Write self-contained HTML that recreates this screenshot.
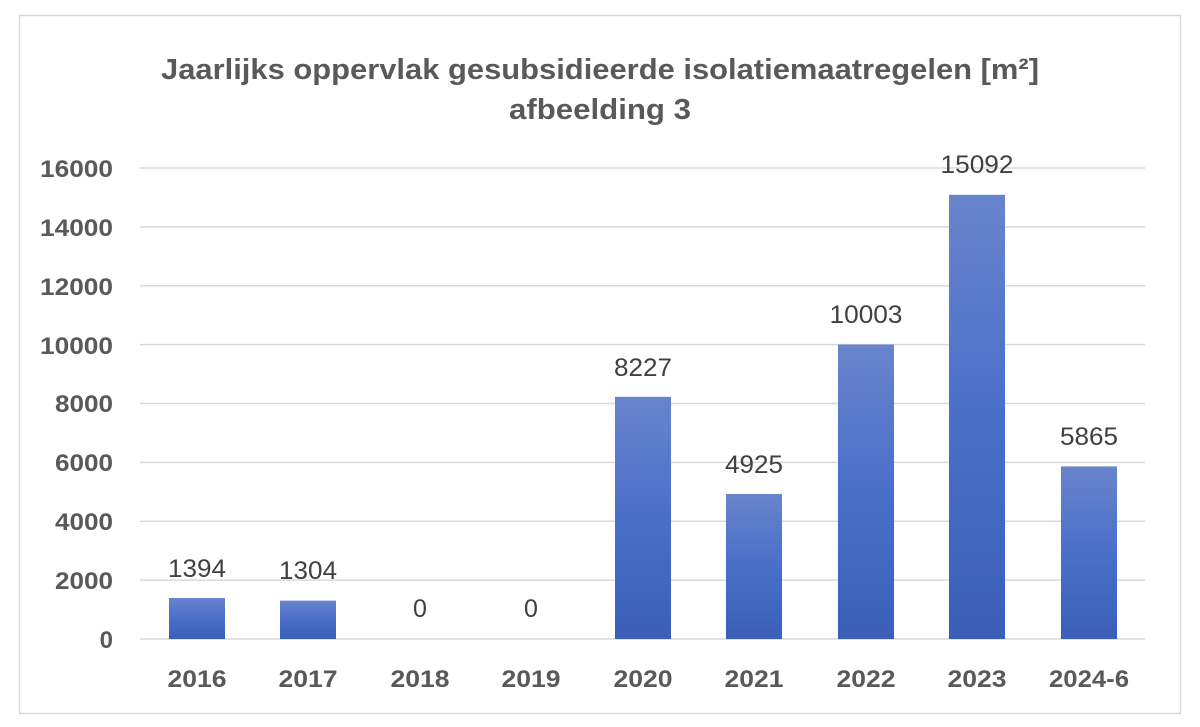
<!DOCTYPE html>
<html><head><meta charset="utf-8"><style>
html,body{margin:0;padding:0;background:#fff;}
svg{display:block;}
text{font-family:"Liberation Sans",sans-serif;}
</style></head><body>
<svg width="1200" height="727" viewBox="0 0 1200 727">
<defs>
<linearGradient id="g" x1="0" y1="0" x2="0" y2="1">
<stop offset="0" stop-color="#6884cc"/><stop offset="0.5" stop-color="#4a6fc9"/><stop offset="1" stop-color="#3b5fb8"/>
</linearGradient>
</defs>
<rect x="19.5" y="15.5" width="1161" height="698" fill="#fff" stroke="#d9d9d9" stroke-width="1.5"/>
<text x="600" y="79" text-anchor="middle" font-size="29" font-weight="bold" fill="#595959" textLength="878" lengthAdjust="spacingAndGlyphs">Jaarlijks oppervlak gesubsidieerde isolatiemaatregelen [m²]</text>
<text x="600" y="119" text-anchor="middle" font-size="29" font-weight="bold" fill="#595959" textLength="182" lengthAdjust="spacingAndGlyphs">afbeelding 3</text>
<g stroke="#d9d9d9" stroke-width="1.5">
<line x1="140" x2="1145" y1="168" y2="168"/>
<line x1="140" x2="1145" y1="226.9" y2="226.9"/>
<line x1="140" x2="1145" y1="285.8" y2="285.8"/>
<line x1="140" x2="1145" y1="344.6" y2="344.6"/>
<line x1="140" x2="1145" y1="403.5" y2="403.5"/>
<line x1="140" x2="1145" y1="462.4" y2="462.4"/>
<line x1="140" x2="1145" y1="521.3" y2="521.3"/>
<line x1="140" x2="1145" y1="580.1" y2="580.1"/>
<line x1="140" x2="1145" y1="639" y2="639"/>
</g>
<g font-size="24" font-weight="bold" fill="#595959" text-anchor="end">
<text x="113" y="177" textLength="73" lengthAdjust="spacingAndGlyphs">16000</text><text x="113" y="236" textLength="73" lengthAdjust="spacingAndGlyphs">14000</text><text x="113" y="295" textLength="73" lengthAdjust="spacingAndGlyphs">12000</text>
<text x="113" y="354" textLength="73" lengthAdjust="spacingAndGlyphs">10000</text><text x="113" y="412" textLength="58" lengthAdjust="spacingAndGlyphs">8000</text><text x="113" y="471" textLength="58" lengthAdjust="spacingAndGlyphs">6000</text>
<text x="113" y="530" textLength="58" lengthAdjust="spacingAndGlyphs">4000</text><text x="113" y="589" textLength="58" lengthAdjust="spacingAndGlyphs">2000</text><text x="113" y="648">0</text>
</g>
<g fill="url(#g)">
<rect x="169" y="598" width="56" height="41"/>
<rect x="280" y="600.6" width="56" height="38.4"/>
<rect x="615" y="396.8" width="56" height="242.2"/>
<rect x="726" y="494" width="56" height="145"/>
<rect x="838" y="344.5" width="56" height="294.5"/>
<rect x="949" y="194.8" width="56" height="444.2"/>
<rect x="1061" y="466.4" width="56" height="172.6"/>
</g>
<g font-size="25" fill="#404040" text-anchor="middle">
<text x="197" y="577" textLength="58" lengthAdjust="spacingAndGlyphs">1394</text><text x="308" y="579" textLength="58" lengthAdjust="spacingAndGlyphs">1304</text>
<text x="420" y="617">0</text><text x="531" y="617">0</text>
<text x="643" y="376" textLength="58" lengthAdjust="spacingAndGlyphs">8227</text><text x="754" y="473" textLength="58" lengthAdjust="spacingAndGlyphs">4925</text>
<text x="866" y="323" textLength="73" lengthAdjust="spacingAndGlyphs">10003</text><text x="977" y="173" textLength="73" lengthAdjust="spacingAndGlyphs">15092</text>
<text x="1089" y="445" textLength="58" lengthAdjust="spacingAndGlyphs">5865</text>
</g>
<g font-size="24" font-weight="bold" fill="#595959" text-anchor="middle">
<text x="197" y="687" textLength="59" lengthAdjust="spacingAndGlyphs">2016</text><text x="308" y="687" textLength="59" lengthAdjust="spacingAndGlyphs">2017</text><text x="420" y="687" textLength="59" lengthAdjust="spacingAndGlyphs">2018</text>
<text x="531" y="687" textLength="59" lengthAdjust="spacingAndGlyphs">2019</text><text x="643" y="687" textLength="59" lengthAdjust="spacingAndGlyphs">2020</text><text x="754" y="687" textLength="59" lengthAdjust="spacingAndGlyphs">2021</text>
<text x="866" y="687" textLength="59" lengthAdjust="spacingAndGlyphs">2022</text><text x="977" y="687" textLength="59" lengthAdjust="spacingAndGlyphs">2023</text><text x="1089" y="687" textLength="80" lengthAdjust="spacingAndGlyphs">2024-6</text>
</g>
</svg>
</body></html>
